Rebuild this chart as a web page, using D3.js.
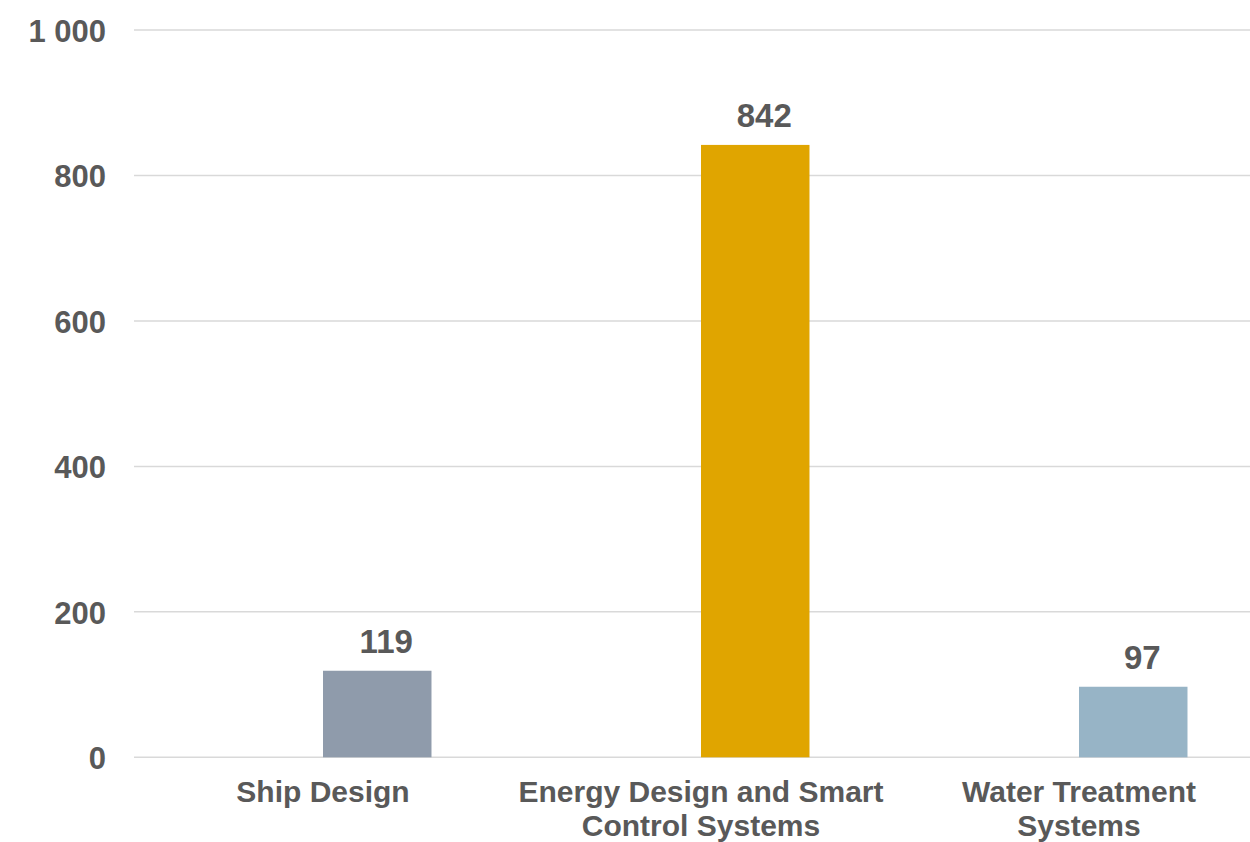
<!DOCTYPE html>
<html><head><meta charset="utf-8">
<script src="https://cdn.jsdelivr.net/npm/d3@7"></script>
<style>body{margin:0;background:#fff}svg{display:block}text{font-family:"Liberation Sans",Arial,sans-serif;font-weight:bold;fill:#595959}</style>
</head><body><svg id="c" width="1250" height="842"></svg>
<script>
const categories = [["Ship Design"], ["Energy Design and Smart", "Control Systems"], ["Water Treatment", "Systems"]];
const values = [119, 842, 97];
const colors = ["#8f9bab", "#e0a500", "#97b4c6"];
const yTicks = [0, 200, 400, 600, 800, 1000];
const yTickLabels = ["0", "200", "400", "600", "800", "1 000"];

const svg = d3.select("#c");
const keys = categories.map(c => c.join(" "));
const x = d3.scaleBand().domain(keys).range([134, 1268]).padding(0);
const y = d3.scaleLinear().domain([0, 1000]).range([757.3, 30]);
const bw = x.bandwidth() * 0.287;

// gridlines
svg.append("g").selectAll("line").data(yTicks).join("line")
  .attr("x1", 134).attr("x2", 1250)
  .attr("y1", d => y(d)).attr("y2", d => y(d))
  .attr("stroke", "#d9d9d9").attr("stroke-width", 1.5);

// y axis labels
const yAxis = d3.axisLeft(y).tickValues(yTicks).tickFormat((d, i) => yTickLabels[i]).tickSize(0).tickPadding(0);
const ya = svg.append("g").attr("transform", "translate(106,0)").call(yAxis);
ya.select(".domain").remove();
ya.selectAll("text").attr("font-size", 31).attr("font-family", null).attr("fill", "#595959").attr("dy", "0.36em");

// bars
svg.append("g").selectAll("rect").data(values).join("rect")
  .attr("x", (d, i) => x(keys[i]) + x.bandwidth() / 2)
  .attr("width", bw)
  .attr("y", d => y(d))
  .attr("height", d => y(0) - y(d))
  .attr("fill", (d, i) => colors[i]);

// value labels
svg.append("g").selectAll("text").data(values).join("text")
  .attr("x", (d, i) => x(keys[i]) + x.bandwidth() / 2 + bw / 2 + 9)
  .attr("y", d => y(d) - 18)
  .attr("text-anchor", "middle")
  .attr("font-size", 33)
  .text(d => d);

// category labels
const cg = svg.append("g").selectAll("text").data(categories).join("text")
  .attr("text-anchor", "middle")
  .attr("font-size", 30)
  .attr("x", (d, i) => x(keys[i]) + x.bandwidth() / 2)
  .attr("y", 802);
cg.selectAll("tspan").data(d => d).join("tspan")
  .attr("x", function () { return d3.select(this.parentNode).attr("x"); })
  .attr("dy", (d, j) => j === 0 ? 0 : 34)
  .text(d => d);
</script></body></html>
